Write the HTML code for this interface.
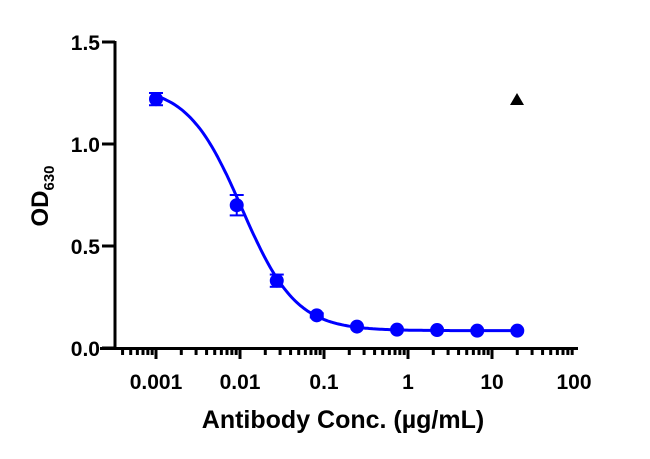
<!DOCTYPE html>
<html><head><meta charset="utf-8"><style>
body{margin:0;background:#fff}
text{font-family:"Liberation Sans",Arial,sans-serif;font-weight:bold;fill:#000}
</style></head><body>
<svg id="s" width="650" height="454" viewBox="0 0 650 454" xmlns="http://www.w3.org/2000/svg">
<g stroke="#000" stroke-width="3" fill="none">
<line x1="115" y1="41" x2="115" y2="350"/>
<line x1="100" y1="348.5" x2="578" y2="348.5"/>
<line x1="102" y1="42" x2="115" y2="42"/>
<line x1="102" y1="144" x2="115" y2="144"/>
<line x1="102" y1="246" x2="115" y2="246"/>
<line x1="102" y1="348" x2="115" y2="348"/>
</g>
<g id="ticks" stroke="#000" stroke-width="3"></g>
<g font-size="21" text-anchor="end">
<text x="100" y="50">1.5</text>
<text x="100" y="152">1.0</text>
<text x="100" y="254">0.5</text>
<text x="100" y="356">0.0</text>
</g>
<g font-size="21" text-anchor="middle">
<text x="156" y="389">0.001</text>
<text x="240" y="389">0.01</text>
<text x="324" y="389">0.1</text>
<text x="408" y="389">1</text>
<text x="492" y="389">10</text>
<text x="574" y="389">100</text>
</g>
<text x="343" y="428" font-size="25" text-anchor="middle">Antibody Conc. (µg/mL)</text>
<text transform="translate(48,196) rotate(-90)" font-size="24" text-anchor="middle">OD<tspan font-size="15" dy="6">630</tspan></text>
<path id="curve" fill="none" stroke="#0000ff" stroke-width="3"/>
<g id="pts" fill="#0000ff" stroke="#0000ff" stroke-width="2"></g>
<polygon points="517,93 510,105 524,105" fill="#000"/>
</svg>
<script>
var X=function(c){return 156+84*Math.log10(c/0.001)};
var Y=function(v){return 348-204*v};
var t=document.getElementById('ticks'),h='';
for(var e=-4;e<2;e++){for(var m=1;m<10;m++){var c=m*Math.pow(10,e);var x=X(c);if(x<118||x>578)continue;h+='<line x1="'+x+'" y1="348" x2="'+x+'" y2="'+(m==1?359:355)+'"/>';}}
t.innerHTML=h;
var tp=1.285,bot=0.085,ic=0.0105,hill=1.35,d='';
for(var i=0;i<=200;i++){var lx=-3+i*(Math.log10(20)+3)/200;var c=Math.pow(10,lx);var v=bot+(tp-bot)/(1+Math.pow(c/ic,hill));d+=(i?'L':'M')+X(c).toFixed(1)+','+Y(v).toFixed(1);}
document.getElementById('curve').setAttribute('d',d);
var data=[[0.001,1.22,0.03],[0.00914,0.70,0.05],[0.0274,0.33,0.03],[0.082,0.16,0.01],[0.247,0.105,0],[0.74,0.09,0],[2.22,0.088,0],[6.67,0.085,0],[20,0.085,0]];
var p='';data.forEach(function(a){var x=X(a[0]),y=Y(a[1]);p+='<circle cx="'+x+'" cy="'+y+'" r="6"/>';if(a[2]){var y1=Y(a[1]+a[2]),y2=Y(a[1]-a[2]);p+='<line x1="'+x+'" y1="'+y1+'" x2="'+x+'" y2="'+y2+'"/><line x1="'+(x-7)+'" y1="'+y1+'" x2="'+(x+7)+'" y2="'+y1+'"/><line x1="'+(x-7)+'" y1="'+y2+'" x2="'+(x+7)+'" y2="'+y2+'"/>';}});
document.getElementById('pts').innerHTML=p;
</script>
</body></html>
